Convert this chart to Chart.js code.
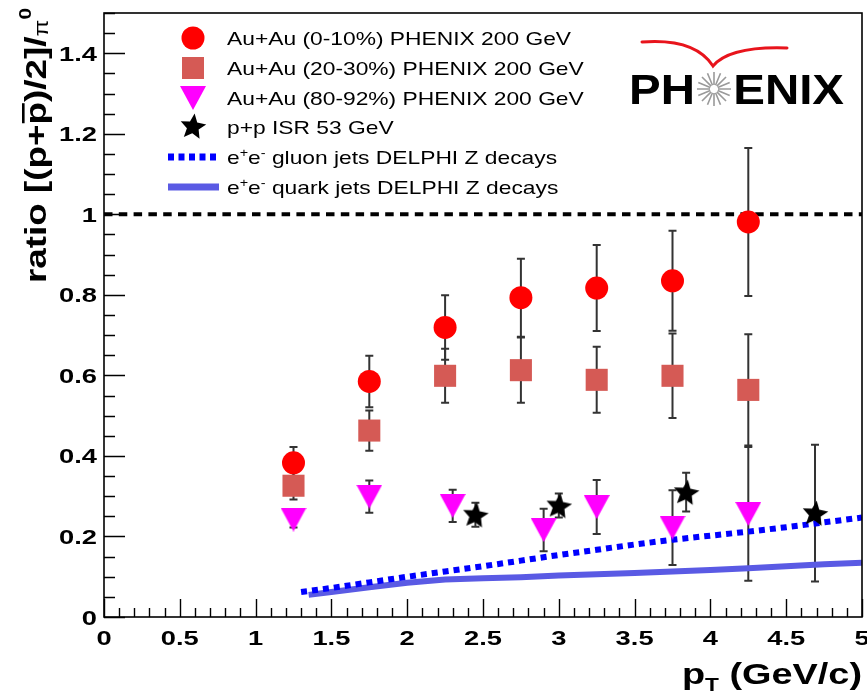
<!DOCTYPE html>
<html>
<head>
<meta charset="utf-8">
<title>p/pi0 ratio vs pT</title>
<script src="https://cdn.jsdelivr.net/npm/chart.js@4.4.1/dist/chart.umd.min.js"></script>
<style>
  html, body { margin: 0; padding: 0; background: #fff; }
  canvas { display: block; }
</style>
</head>
<body>
<canvas id="chart" width="867" height="696"></canvas>
<script>
// ---- data ----
const ptAuAu = [1.25, 1.75, 2.25, 2.75, 3.25, 3.75, 4.25];
const central = [0.383, 0.585, 0.719, 0.793, 0.817, 0.835, 0.981];
const centralErr = [0.039, 0.064, 0.08, 0.097, 0.107, 0.124, 0.184];
const midCentral = [0.326, 0.463, 0.599, 0.613, 0.589, 0.599, 0.564];
const midCentralErr = [0.034, 0.05, 0.067, 0.081, 0.082, 0.105, 0.138];

const ptPeriph = [1.25, 1.75, 2.3, 2.9, 3.25, 3.75, 4.25];
const peripheral = [0.242, 0.299, 0.276, 0.216, 0.273, 0.222, 0.256];
const peripheralErr = [0.02, 0.04, 0.04, 0.053, 0.067, 0.093, 0.166];

const ptISR = [2.45, 3.0, 3.84, 4.69];
const isr = [0.254, 0.277, 0.31, 0.258];
const isrErr = [0.03, 0.03, 0.048, 0.17];

const ptGluon = [1.3, 1.5, 1.75, 2.0, 2.25, 2.5, 2.75, 3.0, 3.25, 3.5, 3.75, 4.0, 4.25, 4.5, 4.75, 5.0];
const gluonJets = [0.062, 0.072, 0.086, 0.1, 0.113, 0.126, 0.14, 0.154, 0.167, 0.18, 0.192, 0.202, 0.212, 0.223, 0.235, 0.247];
const ptQuark = [1.35, 1.5, 1.75, 2.0, 2.25, 2.5, 2.75, 3.0, 3.25, 3.5, 3.75, 4.0, 4.25, 4.5, 4.75, 5.0];
const quarkJets = [0.055, 0.062, 0.074, 0.085, 0.093, 0.096, 0.099, 0.103, 0.106, 0.109, 0.113, 0.117, 0.121, 0.126, 0.131, 0.135];

const refX = [0, 5];
const refY = [1, 1];

const xTickStep = 0.5;
const yTickStep = 0.2;

const legendLabels = [
  'Au+Au (0-10%) PHENIX 200 GeV',
  'Au+Au (20-30%) PHENIX 200 GeV',
  'Au+Au (80-92%) PHENIX 200 GeV',
  'p+p ISR 53 GeV',
  'gluon jets DELPHI Z decays',
  'quark jets DELPHI Z decays'
];

// ---- look ----
const FONT = "'Liberation Sans', Arial, Helvetica, sans-serif";
const RED = '#ff0000';
const SALMON = '#d55a55';
const MAGENTA = '#ff00ff';
const BLUE = '#0000ff';
const LAVENDER = '#5a5ae4';
const ERR_COLOR = '#333333';

function markerCanvas(w, h, draw) {
  const c = document.createElement('canvas');
  c.width = w; c.height = h;
  draw(c.getContext('2d'), w, h);
  return c;
}

// downward triangle, centred on its bounding box
const triDown = markerCanvas(26, 24, (g, w, h) => {
  g.fillStyle = MAGENTA;
  g.beginPath();
  g.moveTo(0, 0); g.lineTo(w, 0); g.lineTo(w / 2, h);
  g.closePath(); g.fill();
});

// filled five-point star
const starMark = markerCanvas(28, 28, (g) => {
  g.fillStyle = '#000';
  g.beginPath();
  for (let k = 0; k < 10; k++) {
    const r = k % 2 === 0 ? 13.5 : 6.2;
    const a = -Math.PI / 2 + k * Math.PI / 5 + 0.12;
    const px = 14 + r * Math.cos(a), py = 15 + r * Math.sin(a);
    if (k === 0) g.moveTo(px, py); else g.lineTo(px, py);
  }
  g.closePath(); g.fill();
});

const pts = (xs, ys) => xs.map((x, i) => ({ x: x, y: ys[i] }));

const datasets = [
  { data: pts(ptAuAu, central), errors: centralErr, pointStyle: 'circle', pointRadius: 11.5,
    backgroundColor: RED, borderWidth: 0, showLine: false },
  { data: pts(ptAuAu, midCentral), errors: midCentralErr, pointStyle: 'rect', pointRadius: 15.6,
    backgroundColor: SALMON, borderWidth: 0, showLine: false },
  { data: pts(ptPeriph, peripheral), errors: peripheralErr, pointStyle: triDown, pointRadius: 12,
    backgroundColor: MAGENTA, borderWidth: 0, showLine: false },
  { data: pts(ptISR, isr), errors: isrErr, pointStyle: starMark, pointRadius: 13,
    backgroundColor: '#000', borderWidth: 0, showLine: false },
  { data: pts(ptGluon, gluonJets), showLine: true, pointRadius: 0, borderColor: BLUE,
    borderWidth: 6, borderDash: [6, 5], borderCapStyle: 'butt', tension: 0 },
  { data: pts(ptQuark, quarkJets), showLine: true, pointRadius: 0, borderColor: LAVENDER,
    borderWidth: 6, tension: 0 },
  { data: pts(refX, refY), showLine: true, pointRadius: 0, borderColor: '#000',
    borderWidth: 4, borderDash: [8.5, 6.3], borderCapStyle: 'butt' }
];

// ---- text helpers (runs of differently sized pieces, stretched) ----
function runWidth(ctx, parts) {
  let w = 0;
  parts.forEach(p => { ctx.font = p.font; w += ctx.measureText(p.text).width; });
  return w;
}

function drawRun(ctx, parts) {
  let x = 0;
  parts.forEach(p => {
    ctx.font = p.font;
    const w = ctx.measureText(p.text).width;
    ctx.fillText(p.text, x, p.dy || 0);
    if (p.bar !== undefined) ctx.fillRect(x + 1, p.bar, w - 2, 2.6);
    x += w;
  });
}

function textBox(ctx, parts, x, y, opt) {
  const nat = runWidth(ctx, parts);
  const sx = opt.width ? opt.width / nat : (opt.sx || 1);
  ctx.save();
  ctx.translate(x, y);
  if (opt.rotate) ctx.rotate(-Math.PI / 2);
  ctx.scale(sx, opt.sy || 1);
  ctx.textAlign = 'left';
  ctx.textBaseline = 'alphabetic';
  ctx.fillStyle = opt.color || '#000';
  const off = opt.align === 'right' ? -nat : opt.align === 'center' ? -nat / 2 : 0;
  ctx.translate(off, 0);
  drawRun(ctx, parts);
  ctx.restore();
}

const fmt = v => String(Math.round(v * 10) / 10);

// ---- error bars behind the markers ----
const errorBars = {
  id: 'errorBars',
  beforeDatasetsDraw(chart) {
    const { ctx, scales: { y } } = chart;
    ctx.save();
    ctx.strokeStyle = ERR_COLOR;
    ctx.lineWidth = 2;
    chart.data.datasets.forEach((ds, i) => {
      if (!ds.errors) return;
      const meta = chart.getDatasetMeta(i);
      meta.data.forEach((el, j) => {
        const v = ds.data[j].y, e = ds.errors[j];
        const top = y.getPixelForValue(v + e);
        const bot = y.getPixelForValue(v - e);
        ctx.beginPath();
        ctx.moveTo(el.x, top); ctx.lineTo(el.x, bot);
        ctx.moveTo(el.x - 4, top); ctx.lineTo(el.x + 4, top);
        ctx.moveTo(el.x - 4, bot); ctx.lineTo(el.x + 4, bot);
        ctx.stroke();
      });
    });
    ctx.restore();
  }
};

// ---- frame, inward ticks, labels, titles, legend, logo ----
const decorations = {
  id: 'decorations',
  afterDraw(chart) {
    const { ctx, chartArea: a, scales: { x, y } } = chart;
    ctx.save();

    // frame
    ctx.strokeStyle = '#000';
    ctx.lineWidth = 1.6;
    ctx.strokeRect(a.left, a.top, a.right - a.left, a.bottom - a.top);

    // x ticks: 0.1 minor, 0.5 major
    ctx.lineWidth = 1.4;
    ctx.beginPath();
    for (let i = 0; i <= 50; i++) {
      const px = Math.round(x.getPixelForValue(i / 10)) + 0.5;
      const len = i % 5 === 0 ? 18 : 9;
      ctx.moveTo(px, a.bottom); ctx.lineTo(px, a.bottom - len);
    }
    // y ticks: 0.05 minor, 0.2 major
    for (let i = 0; i <= 30; i++) {
      const py = Math.round(y.getPixelForValue(i * 0.05)) + 0.5;
      const len = i % 4 === 0 ? 21 : 11;
      ctx.moveTo(a.left, py); ctx.lineTo(a.left + len, py);
    }
    ctx.stroke();

    // tick labels
    const tickFont = 'bold 21px ' + FONT;
    x.ticks.forEach(t => {
      textBox(ctx, [{ text: fmt(t.value), font: tickFont }], x.getPixelForValue(t.value), a.bottom + 28,
        { align: 'center', sx: 1.3 });
    });
    y.ticks.forEach(t => {
      textBox(ctx, [{ text: fmt(t.value), font: tickFont }], a.left - 7, y.getPixelForValue(t.value) + 7.5,
        { align: 'right', sx: 1.3 });
    });

    // axis titles
    textBox(ctx, [
      { text: 'p', font: 'bold 30px ' + FONT },
      { text: 'T', font: 'bold 18px ' + FONT, dy: 7 },
      { text: ' (GeV/c)', font: 'bold 30px ' + FONT }
    ], a.right, 684, { align: 'right', width: 180 });

    textBox(ctx, [
      { text: 'ratio [(p+', font: 'bold 30px ' + FONT },
      { text: 'p', font: 'bold 30px ' + FONT, bar: -24 },
      { text: ')/2]/', font: 'bold 30px ' + FONT },
      { text: '\u03c0', font: '20px ' + FONT, dy: 2 },
      { text: '0', font: 'bold 17px ' + FONT, dy: -15 }
    ], 46, 8, { rotate: true, align: 'right', width: 275 });

    // legend
    const lx = 193, tx = 227;
    const rows = [38, 68, 98, 127, 157, 187];
    ctx.fillStyle = RED;
    ctx.beginPath(); ctx.arc(lx, rows[0], 11.5, 0, Math.PI * 2); ctx.fill();
    ctx.fillStyle = SALMON;
    ctx.fillRect(lx - 11, rows[1] - 11, 22, 22);
    ctx.drawImage(triDown, lx - 13, rows[2] - 12);
    ctx.drawImage(starMark, lx - 14, rows[3] - 15);
    ctx.lineWidth = 7;
    ctx.strokeStyle = BLUE;
    ctx.setLineDash([6, 4.5]);
    ctx.beginPath(); ctx.moveTo(168, rows[4]); ctx.lineTo(219, rows[4]); ctx.stroke();
    ctx.setLineDash([]);
    ctx.strokeStyle = LAVENDER;
    ctx.beginPath(); ctx.moveTo(168, rows[5]); ctx.lineTo(219, rows[5]); ctx.stroke();

    const lf = '19px ' + FONT, sup = '12px ' + FONT;
    const legendSx = 1.2;
    for (let k = 0; k < 4; k++) {
      textBox(ctx, [{ text: legendLabels[k], font: lf }], tx, rows[k] + 7, { sx: legendSx });
    }
    for (let k = 4; k < 6; k++) {
      textBox(ctx, [
        { text: 'e', font: lf }, { text: '+', font: sup, dy: -7 },
        { text: 'e', font: lf }, { text: '-', font: sup, dy: -7 },
        { text: ' ' + legendLabels[k], font: lf }
      ], tx, rows[k] + 7, { sx: legendSx });
    }

    // PHENIX logo
    const lf2 = 'bold 42px ' + FONT;
    textBox(ctx, [{ text: 'PH', font: lf2 }], 629, 104, { sx: 1.13 });
    textBox(ctx, [{ text: 'ENIX', font: lf2 }], 844, 104, { sx: 1.13, align: 'right' });
    ctx.strokeStyle = '#9a9a9a';
    ctx.lineWidth = 1.6;
    ctx.beginPath();
    for (let k = 0; k < 16; k++) {
      const ang = k * Math.PI / 8;
      ctx.moveTo(714 + 4 * Math.cos(ang), 89 + 4 * Math.sin(ang));
      ctx.lineTo(714 + 17 * Math.cos(ang), 89 + 17 * Math.sin(ang));
    }
    ctx.stroke();
    ctx.strokeStyle = '#e8141c';
    ctx.lineWidth = 3;
    ctx.lineCap = 'round';
    ctx.beginPath();
    ctx.moveTo(642, 42); ctx.quadraticCurveTo(695, 38, 713, 66);
    ctx.quadraticCurveTo(730, 46, 787, 48);
    ctx.stroke();

    ctx.restore();
  }
};

new Chart(document.getElementById('chart'), {
  type: 'scatter',
  data: { datasets: datasets },
  options: {
    responsive: false,
    animation: false,
    events: [],
    layout: { autoPadding: false, padding: { top: 13, right: 5, left: 0, bottom: 0 } },
    plugins: { legend: { display: false }, tooltip: { enabled: false } },
    scales: {
      x: {
        type: 'linear', min: 0, max: 5,
        ticks: { display: false, stepSize: xTickStep, includeBounds: false },
        grid: { display: false }, border: { display: false },
        afterFit: s => { s.height = 79; }
      },
      y: {
        type: 'linear', min: 0, max: 1.5,
        ticks: { display: false, stepSize: yTickStep, includeBounds: false },
        grid: { display: false }, border: { display: false },
        afterFit: s => { s.width = 104; }
      }
    }
  },
  plugins: [errorBars, decorations]
});
</script>
</body>
</html>
